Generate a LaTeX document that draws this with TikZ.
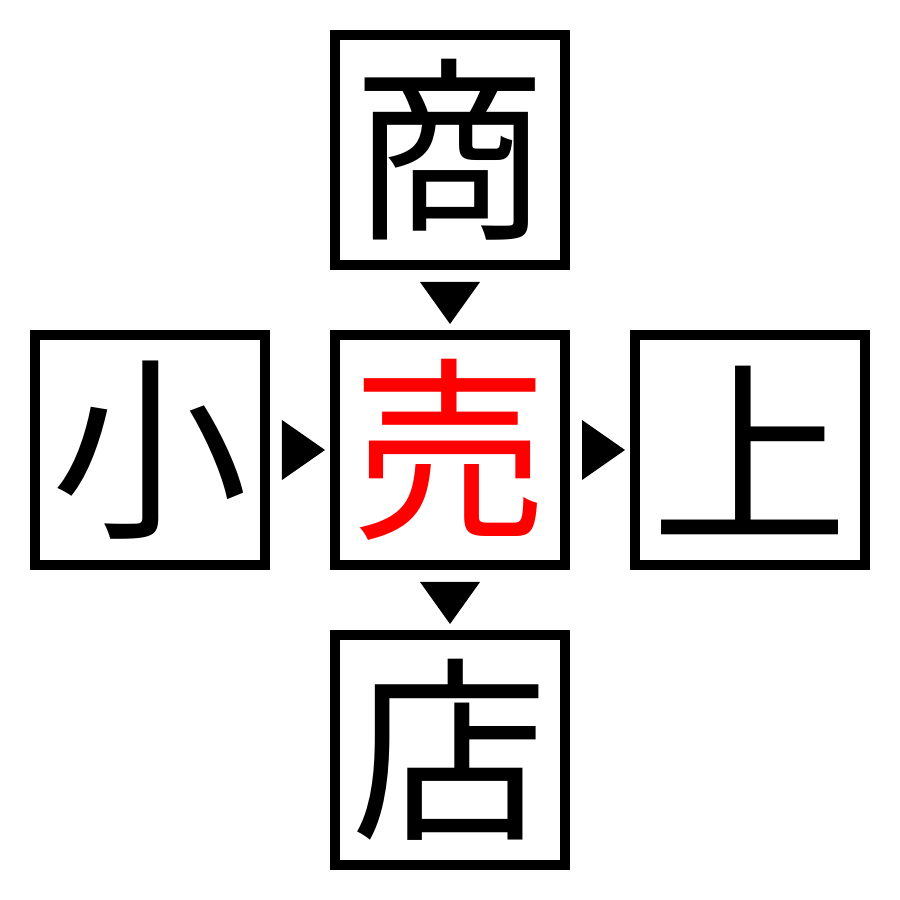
\documentclass[tikz,border=0pt]{standalone}
\usepackage{fontspec}
\newfontfamily\cjk{Noto Sans CJK JP}
\usetikzlibrary{positioning,calc}
\tikzset{
    kanji/.style={draw,line width=0.1cm,minimum size=2.3cm,inner sep=0pt,
        font=\cjk\fontsize{56}{56}\selectfont},
}
\begin{document}
\begin{tikzpicture}[node distance=0.6cm]
        \useasboundingbox (0,0) rectangle (9,9);
        %% boxes
        \node[kanji,text=red] (uri) at (4.5,4.5) {売};
        \node[kanji,above=of uri] (sho) {商};
        \node[kanji,below=of uri] (ten) {店};
        \node[kanji,left=of uri] (ko) {小};
        \node[kanji,right=of uri] (ue) {上};
        %% arrows
        \fill ($(sho.south)+(-0.3,-0.12)$) -- ($(sho.south)+(0.3,-0.12)$) -- ($(sho.south)+(0,-0.54)$) -- cycle;
        \fill ($(uri.south)+(-0.3,-0.12)$) -- ($(uri.south)+(0.3,-0.12)$) -- ($(uri.south)+(0,-0.54)$) -- cycle;
        \fill ($(ko.east)+(0.12,0.3)$) -- ($(ko.east)+(0.12,-0.3)$) -- ($(ko.east)+(0.55,0)$) -- cycle;
        \fill ($(uri.east)+(0.12,0.3)$) -- ($(uri.east)+(0.12,-0.3)$) -- ($(uri.east)+(0.55,0)$) -- cycle;
    \end{tikzpicture}
\end{document}
